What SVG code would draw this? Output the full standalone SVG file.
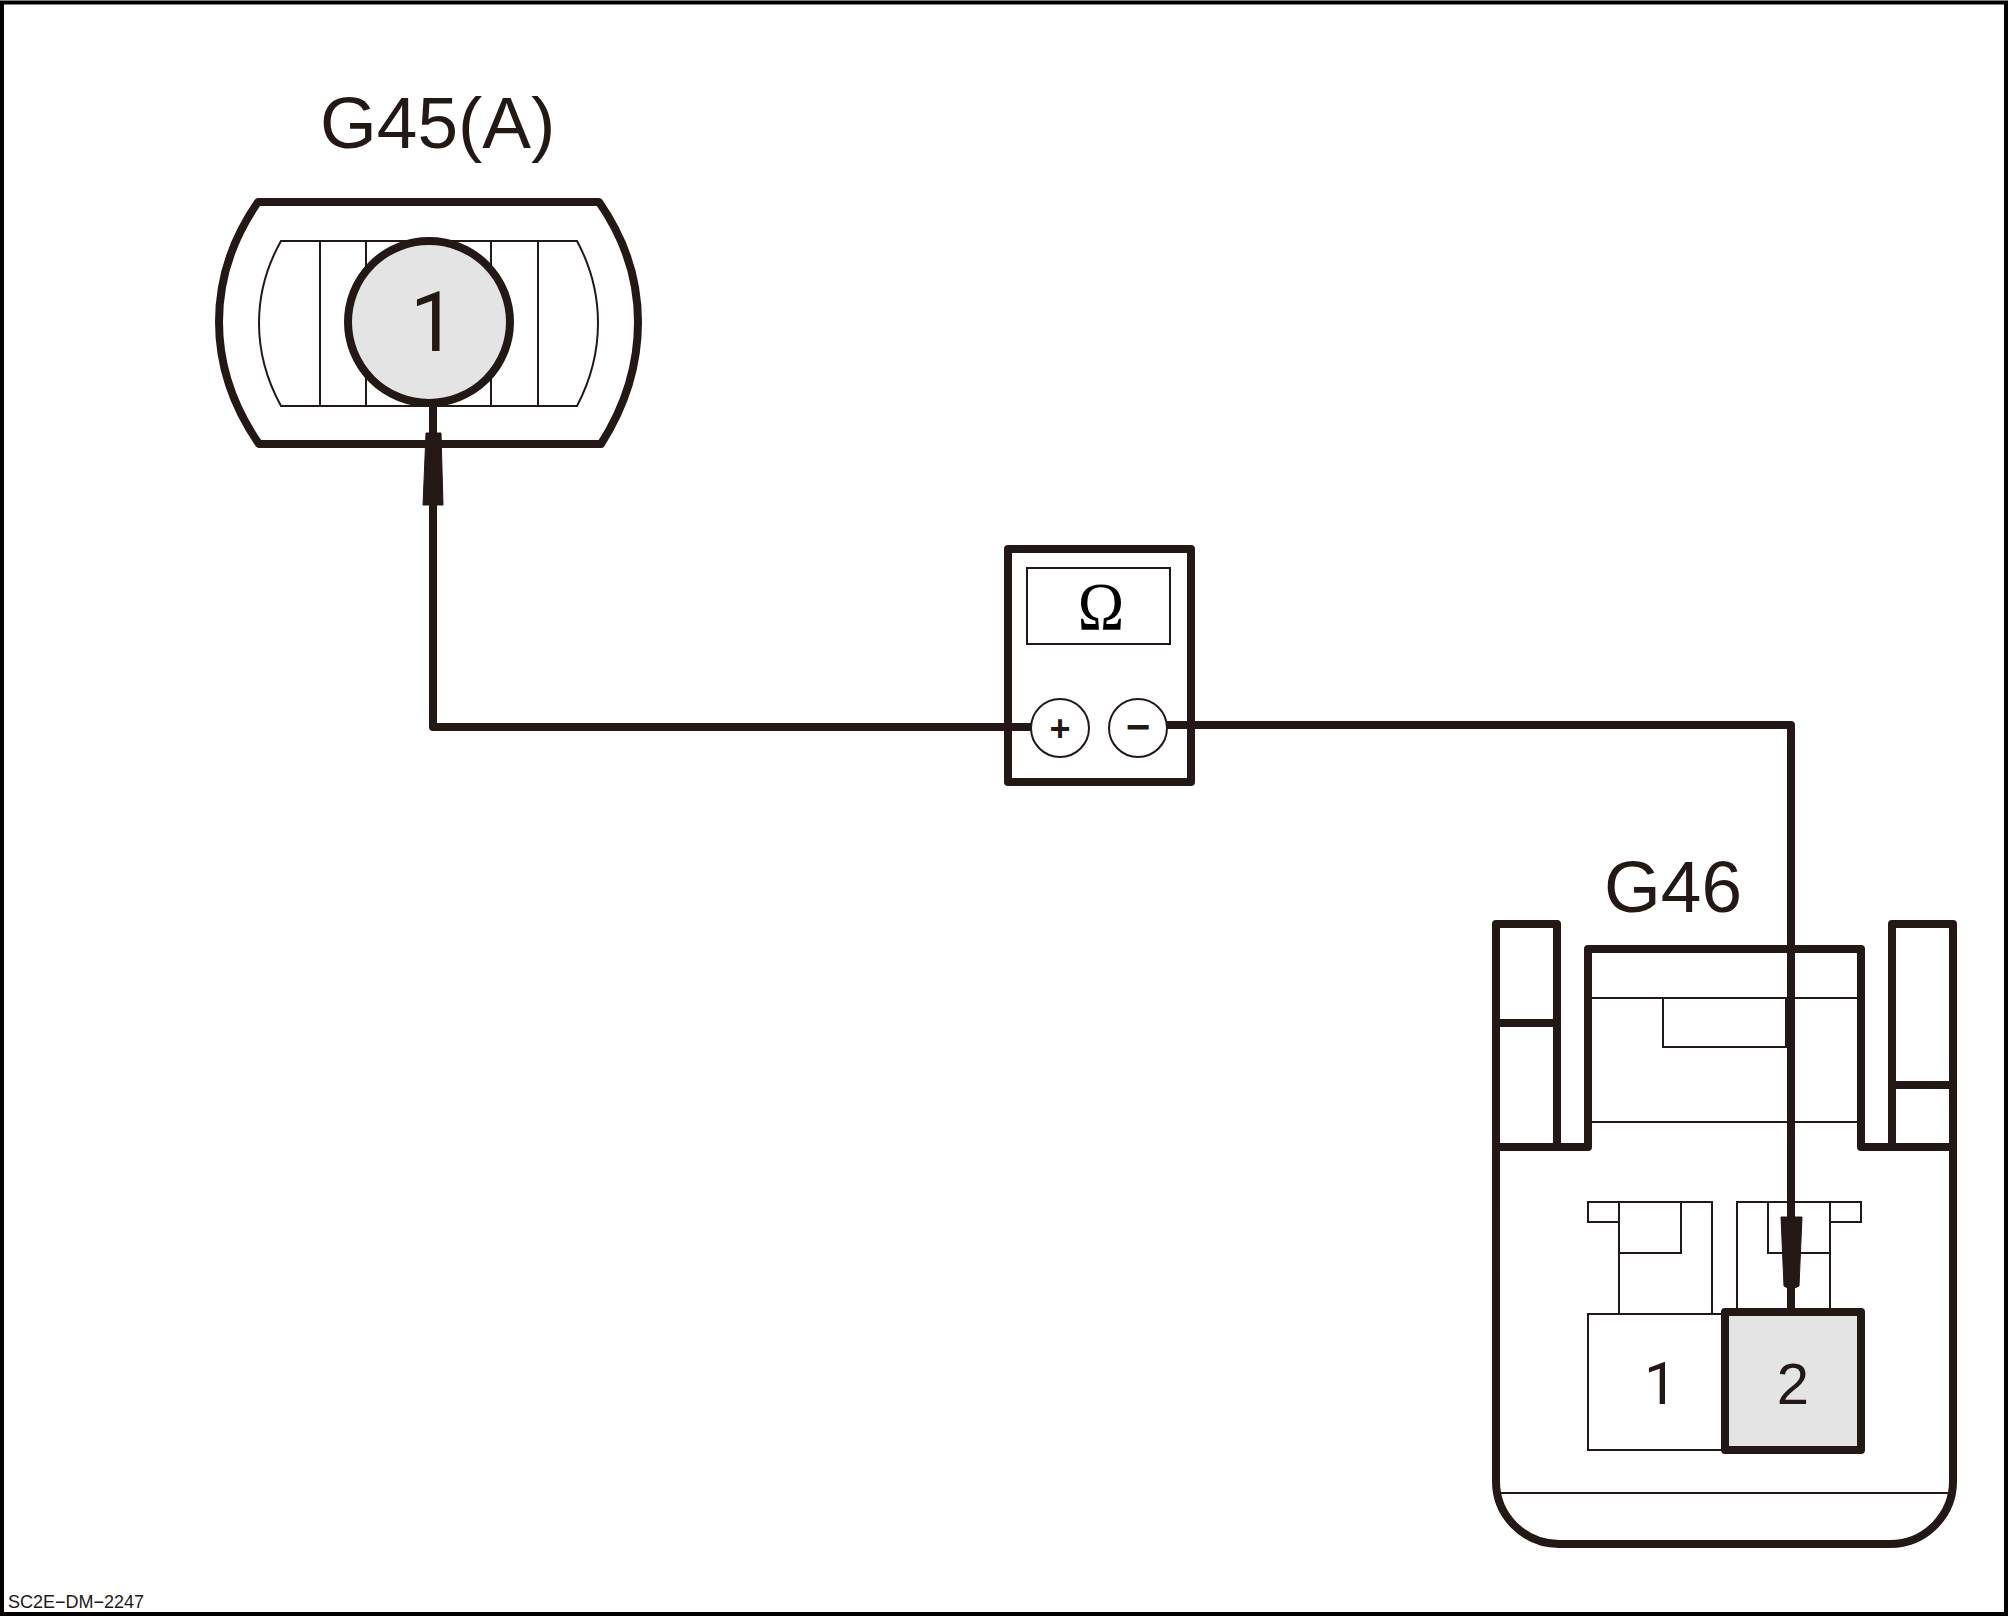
<svg xmlns="http://www.w3.org/2000/svg" width="2009" height="1617" viewBox="0 0 2009 1617">
<style>
.k{fill:none;stroke:#231815;stroke-width:8;stroke-linejoin:round;stroke-linecap:round}
.t{fill:none;stroke:#231815;stroke-width:2;stroke-linejoin:miter}
.w{fill:none;stroke:#231815;stroke-width:8;stroke-linejoin:round}
.p{fill:#231815;stroke:#231815;stroke-width:1;stroke-linejoin:round}
text{font-family:"Liberation Sans",Arial,sans-serif;fill:#231815}
.d{font-family:Roboto,"Liberation Sans",sans-serif}
</style>
<rect width="2009" height="1617" fill="#fff"/>
<rect id="frame" x="2" y="2.5" width="2004" height="1611.5" fill="none" stroke="#000" stroke-width="4"/>
<g id="G45">
<text x="320" y="148" font-size="73">G45(A)</text>
<path class="k" d="M258 202H599Q638 258 638 322Q638 386 601 444H259Q219 386 219 322Q219 258 258 202Z"/>
<path class="t" d="M281 241H577Q598 280 598 323Q598 366 577 406H281Q259 366 259 323Q259 280 281 241ZM320 241V406M366 241V406M491 241V406M538 241V406"/>
<circle cx="429" cy="322" r="81" fill="#e4e4e4" stroke="#231815" stroke-width="8"/>
<text class="d" x="410" y="351" font-size="83">1</text>
</g>
<g id="meter">
<rect class="k" x="1008" y="549" width="183" height="233"/>
<rect class="t" x="1027" y="568" width="143" height="76"/>
<text transform="translate(1101 629) scale(.92 1)" font-size="68" text-anchor="middle" style="font-family:'Liberation Serif',serif;fill:#000">Ω</text>
<circle class="t" cx="1060" cy="728" r="29" style="fill:#fff"/>
<circle class="t" cx="1138" cy="728" r="29" style="fill:#fff"/>
<text x="1060" y="741" font-size="36" font-weight="bold" text-anchor="middle">+</text>
<text x="1138" y="741" font-size="42" font-weight="bold" text-anchor="middle">−</text>
</g>
<g id="G46">
<text x="1604" y="912" font-size="73">G46</text>
<path class="k" d="M1496 1147V924H1557V1147M1496 1023H1557M1892 1147V924H1953V1147M1892 1085H1953"/>
<path class="k" d="M1496 1147H1588V949H1861V1147H1953V1480A63 63 0 0 1 1890 1544H1559A63 63 0 0 1 1496 1480Z"/>
<path class="t" d="M1588 998H1861M1588 1122H1861M1663 998V1047H1786V998M1501 1493H1948"/>
<path class="t" d="M1588 1202H1619V1222H1588ZM1619 1202H1712V1314M1619 1202V1314M1619 1253H1681V1202"/>
<path class="t" d="M1737 1312V1202H1830V1312M1768 1202V1253H1830M1830 1202H1861V1222H1830"/>
<rect class="t" x="1588" y="1314" width="137" height="136"/>
<rect class="k" x="1725" y="1312" width="136" height="138" style="fill:#e4e4e4"/>
<text class="d" x="1644" y="1404" font-size="59">1</text>
<text x="1793" y="1404" font-size="58" text-anchor="middle">2</text>
</g>
<g id="connectors">
<path class="w" d="M433 405V727H1031"/>
<path class="w" d="M1167 725H1791V1312"/>
<path class="p" d="M426 433H441L443 505H423Z"/>
<path class="p" d="M1781 1217H1802L1799 1286Q1791 1291 1784 1286Z"/>
</g>
<text id="code" x="8" y="1608" font-size="18">SC2E−DM−2247</text>
</svg>
